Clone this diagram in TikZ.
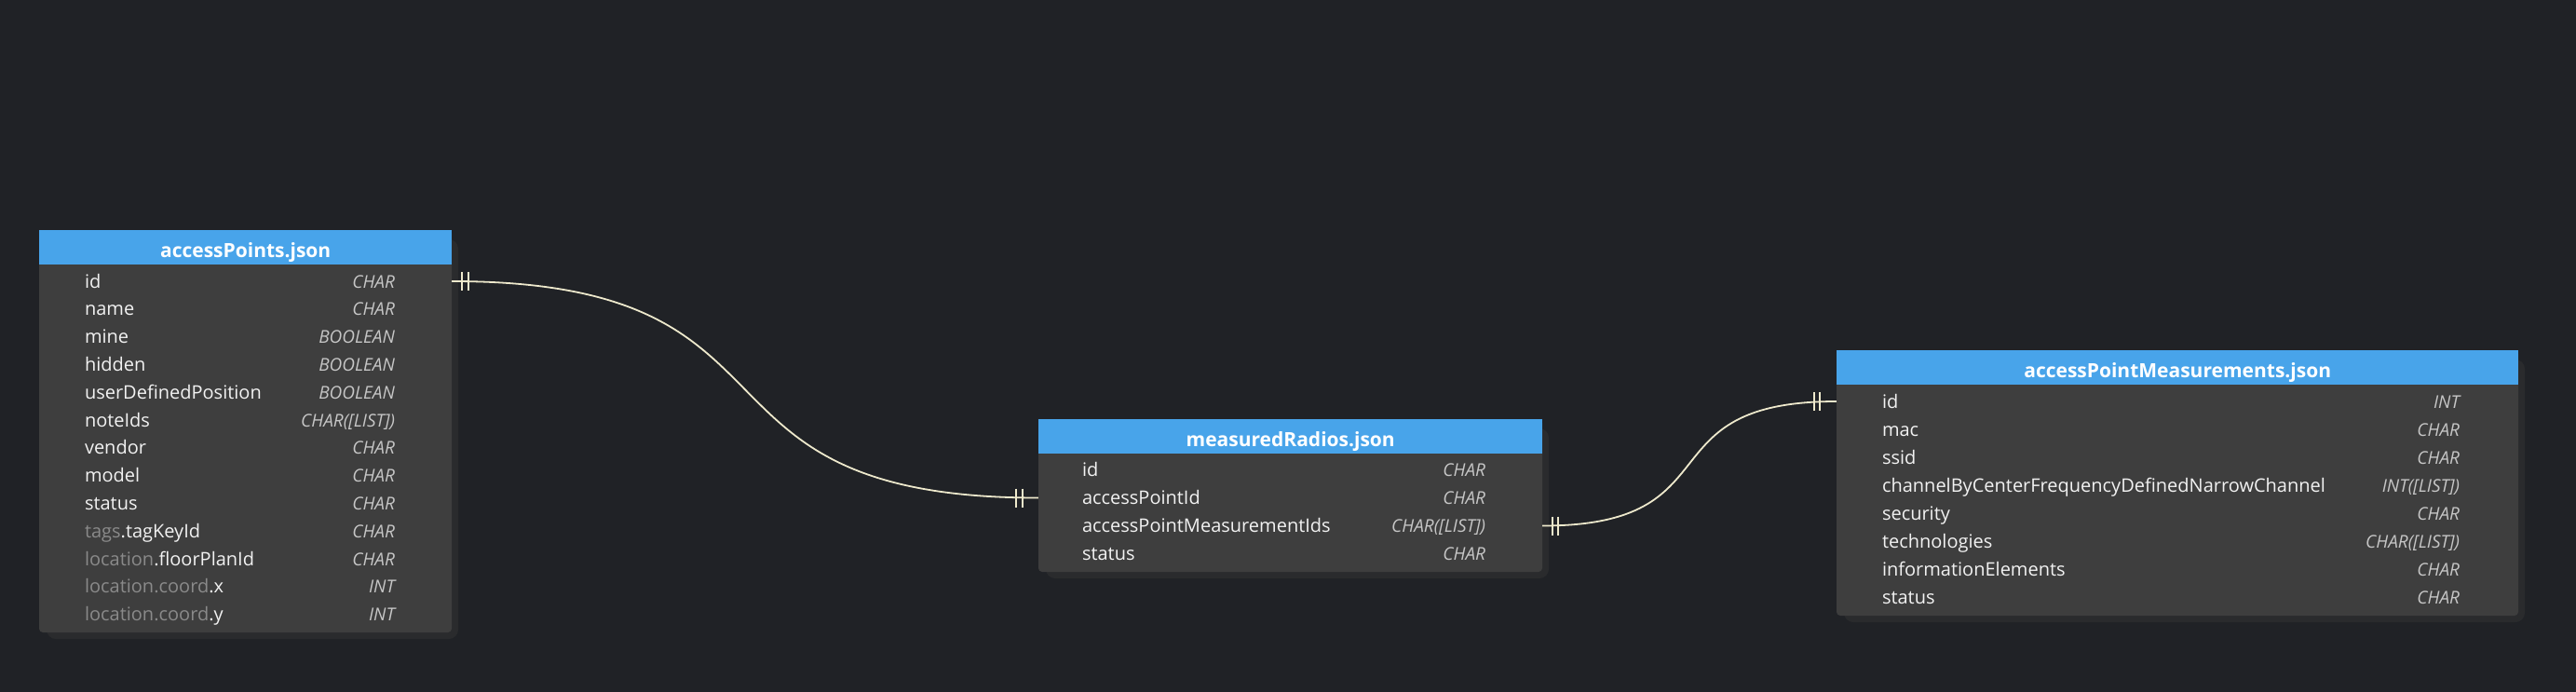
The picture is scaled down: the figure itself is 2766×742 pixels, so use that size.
\documentclass[tikz,border=0pt]{standalone}
\usepackage{fontspec}
\setmainfont{Open Sans}
\usetikzlibrary{calc}
\definecolor{canvas}{HTML}{202226}
\definecolor{headblue}{HTML}{48A4EA}
\definecolor{bodygray}{HTML}{3E3E3E}
\definecolor{shadowgray}{HTML}{2A2B2D}
\definecolor{keytext}{HTML}{F2F2F2}
\definecolor{prefix}{HTML}{8A8A8A}
\definecolor{typetext}{HTML}{C6C6C6}
\definecolor{relline}{HTML}{EEE9CC}
\begin{document}
\begin{tikzpicture}[x=1pt, y=-1pt,
    head/.style={fill=headblue, text=white, font=\fontsize{21}{24}\selectfont\bfseries,
      inner sep=0pt, minimum height=37pt, text height=25pt, text depth=3pt, anchor=north west},
    row/.style={minimum height=30pt, inner sep=0pt},
    key/.style={anchor=base west, inner sep=0pt, text=keytext, font=\fontsize{20}{24}\selectfont},
    type/.style={anchor=base east, inner sep=0pt, text=typetext, font=\fontsize{19}{22}\selectfont\itshape},
    rel/.style={draw=relline, line width=1.8pt}]
        \useasboundingbox (0,0) rectangle (2766,742);
        \fill[canvas] (-40,-40) rectangle (2806,782);
        % accessPoints.json
        \fill[shadowgray, rounded corners=10] (50,257) rectangle (492,686);
        \fill[bodygray, rounded corners=4] (42,247) rectangle (485,679);
        \node[head, minimum width=443pt] (ap-head) at (42,247) {accessPoints.json};
        \foreach \key/\type [count=\i from 0] in {id/CHAR, name/CHAR, mine/BOOLEAN, hidden/BOOLEAN,
            userDefinedPosition/BOOLEAN, noteIds/CHAR([LIST]), vendor/CHAR, model/CHAR, status/CHAR,
            {\textcolor{prefix}{tags}.tagKeyId}/CHAR, {\textcolor{prefix}{location}.floorPlanId}/CHAR,
            {\textcolor{prefix}{location.coord}.x}/INT, {\textcolor{prefix}{location.coord}.y}/INT}
            {\node[row, minimum width=443pt] (ap-\i) at (263.5,{302+29.8*\i}) {};
             \node[key] at ($(ap-\i.west)+(49,7)$) {\key};
             \node[type] at ($(ap-\i.east)+(-61,7)$) {\type};}
        % measuredRadios.json
        \fill[shadowgray, rounded corners=10] (1123,460) rectangle (1663,621);
        \fill[bodygray, rounded corners=4] (1115,450) rectangle (1656,614);
        \node[head, minimum width=541pt] (mr-head) at (1115,450) {measuredRadios.json};
        \foreach \key/\type [count=\i from 0] in {id/CHAR, accessPointId/CHAR,
            accessPointMeasurementIds/CHAR([LIST]), status/CHAR}
            {\node[row, minimum width=541pt] (mr-\i) at (1385.5,{504.5+30*\i}) {};
             \node[key] at ($(mr-\i.west)+(47,7)$) {\key};
             \node[type] at ($(mr-\i.east)+(-61,7)$) {\type};}
        % accessPointMeasurements.json
        \fill[shadowgray, rounded corners=10] (1980,386) rectangle (2711,668);
        \fill[bodygray, rounded corners=4] (1972,376) rectangle (2704,661);
        \node[head, minimum width=732pt] (apm-head) at (1972,376) {accessPointMeasurements.json};
        \foreach \key/\type [count=\i from 0] in {id/INT, mac/CHAR, ssid/CHAR,
            channelByCenterFrequencyDefinedNarrowChannel/INT([LIST]), security/CHAR,
            technologies/CHAR([LIST]), informationElements/CHAR, status/CHAR}
            {\node[row, minimum width=732pt] (apm-\i) at (2338,{431+30*\i}) {};
             \node[key] at ($(apm-\i.west)+(49,7)$) {\key};
             \node[type] at ($(apm-\i.east)+(-63,7)$) {\type};}
        % relations
        \draw[rel] (ap-0.east) .. controls +(400,0) and +(-400,0) .. (mr-1.west);
        \draw[rel] (mr-2.east) .. controls +(210,0) and +(-210,0) .. (apm-0.west);
        \foreach \d in {11,17.5}
            {\draw[rel] ($(ap-0.east)+(\d,-10)$) -- ++(0,20);
             \draw[rel] ($(mr-1.west)+(-\d-6,-10)$) -- ++(0,20);
             \draw[rel] ($(mr-2.east)+(\d-0.5,-10)$) -- ++(0,20);
             \draw[rel] ($(apm-0.west)+(-\d-6.5,-10)$) -- ++(0,20);}
    \end{tikzpicture}
\end{document}
